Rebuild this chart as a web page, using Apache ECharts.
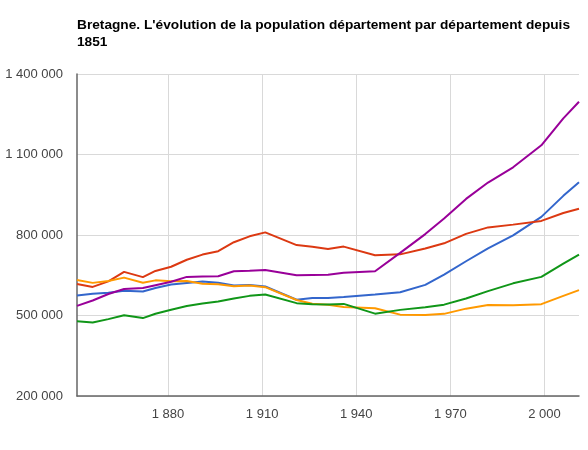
<!DOCTYPE html>
<html>
<head>
<meta charset="utf-8">
<script src="https://cdn.jsdelivr.net/npm/echarts@6/dist/echarts.min.js"></script>
<style>html,body{margin:0;padding:0;background:#fff}#c{width:588px;height:450px}</style>
</head>
<body>
<div id="c"></div>
<script>
var titleText = "Bretagne. L'évolution de la population département par département depuis\n1851";
var years = [1851,1856,1861,1866,1872,1876,1881,1886,1891,1896,1901,1906,1911,1921,1926,1931,1936,1946,1954,1962,1968,1975,1982,1990,1999,2006,2011];
var illeEtVilaine = [574618,580898,584930,592609,589532,602712,615480,621384,626875,622039,611805,613572,608098,558574,565097,565615,568802,578246,586812,614268,652722,702199,749764,798718,867533,945851,996439];
var finistere = [617710,606552,627304,662485,642963,666106,681564,707820,727012,739648,773014,795103,809771,762514,756458,747558,756793,724735,727847,749558,768929,804088,828364,838687,852418,882000,897628];
var cotesDArmor = [632613,621573,628676,641210,622295,630957,627585,628256,618652,616074,609349,611506,605523,557824,543867,539789,531840,526955,503178,501923,506102,525556,538869,538395,542373,573000,594375];
var morbihan = [478172,473932,486504,501084,490352,506573,521614,535256,544470,552028,563468,573152,578400,546047,542248,540598,543175,506884,520978,530833,540474,563588,590889,619838,643873,693000,727083];
var loireAtlantique = [535664,555996,580207,598598,602206,612972,625625,643884,645263,646172,664971,666748,669920,649691,651373,652079,659428,665064,733575,803372,861452,934499,995498,1052183,1134266,1234707,1296364];
var xTicks = [1880,1910,1940,1970,2000];
var yTicks = [200000,500000,800000,1100000,1400000];

function pair(vals){ return years.map(function(y,i){ return [y, vals[i]]; }); }
function fmt(v){ return String(v).replace(/\B(?=(\d{3})+(?!\d))/g, ' '); }

var seriesDefs = [
  {name:'Ille-et-Vilaine', data: illeEtVilaine, color:'#3366cc'},
  {name:'Finistère', data: finistere, color:'#dc3912'},
  {name:"Côtes-d'Armor", data: cotesDArmor, color:'#ff9900'},
  {name:'Morbihan', data: morbihan, color:'#109618'},
  {name:'Loire-Atlantique', data: loireAtlantique, color:'#990099'}
];

var chart = echarts.init(document.getElementById('c'), null, {renderer:'canvas'});
chart.setOption({
  animation:false,
  backgroundColor:'#fff',
  title:{
    text:titleText, left:72, top:12,
    textStyle:{fontFamily:'Liberation Sans, Arial', fontSize:13.7, fontWeight:'bold', color:'#000', lineHeight:17}
  },
  grid:{left:77, right:9, top:74, bottom:54, containLabel:false},
  xAxis:{
    type:'value', min:1851, max:2011,
    axisLine:{show:true, onZero:false, lineStyle:{color:'#666', width:1.5}},
    axisTick:{show:false, customValues:xTicks},
    axisLabel:{customValues:xTicks, formatter:function(v){return fmt(v);}, color:'#444', fontFamily:'Liberation Sans, Arial', fontSize:13, margin:12},
    splitLine:{show:true, lineStyle:{color:'#d9d9d9', width:1}}
  },
  yAxis:{
    type:'value', min:200000, max:1400000,
    axisLine:{show:true, lineStyle:{color:'#666', width:1.5}},
    axisTick:{show:false, customValues:yTicks},
    axisLabel:{customValues:yTicks, formatter:function(v){return fmt(v);}, color:'#444', fontFamily:'Liberation Sans, Arial', fontSize:13, margin:14},
    splitLine:{show:true, lineStyle:{color:'#d9d9d9', width:1}}
  },
  series: seriesDefs.map(function(s){
    return {name:s.name, type:'line', data:pair(s.data), showSymbol:false, symbol:'none',
      lineStyle:{color:s.color, width:2}, itemStyle:{color:s.color}, smooth:false};
  })
});
</script>
</body>
</html>
